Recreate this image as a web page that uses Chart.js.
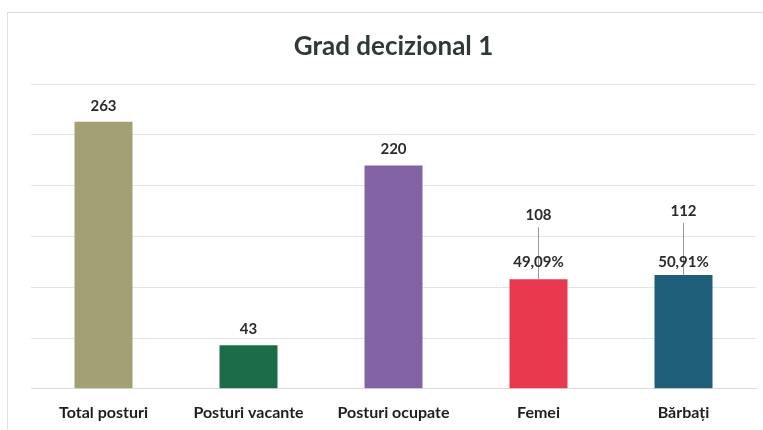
<!DOCTYPE html>
<html>
<head>
<meta charset="utf-8">
<script src="https://cdn.jsdelivr.net/npm/chart.js@4.4.1/dist/chart.umd.min.js"></script>
<style>
  html, body { margin: 0; padding: 0; background: #fff; }
  #wrap { position: relative; width: 763px; height: 430px; overflow: hidden; }
  #frame { position: absolute; left: 7px; top: 12px; right: 0; bottom: 0;
           border-top: 1px solid #d8d8d8; border-left: 1px solid #e2e2e2; }
  canvas { position: absolute; left: 0; top: 0; }
</style>
</head>
<body>
<div id="wrap">
  <div id="frame"></div>
  <canvas id="chart" width="763" height="430"></canvas>
</div>
<script>
const categories = ["Total posturi", "Posturi vacante", "Posturi ocupate", "Femei", "Bărbați"];
const values = [263, 43, 220, 108, 112];
const shares = ["", "", "", "49,09%", "50,91%"];
const barColors = ["#a3a073", "#1b6c47", "#8463a5", "#e8394f", "#1e5e78"];
const yTicks = [0, 50, 100, 150, 200, 250, 300];

const FONT = "Lato, 'Open Sans', sans-serif";

// value labels above each bar, with a leader line where a share is shown
const barLabels = {
  id: "barLabels",
  afterDatasetsDraw(chart) {
    const ctx = chart.ctx;
    const meta = chart.getDatasetMeta(0);
    ctx.save();
    ctx.textAlign = "center";
    ctx.textBaseline = "middle";
    ctx.font = "bold 15px " + FONT;
    ctx.fillStyle = "#2b2b2b";
    meta.data.forEach((bar, i) => {
      const x = bar.x;
      const top = bar.y;
      if (shares[i]) {
        const pctY = 262;
        const numY = top - 64;
        ctx.strokeStyle = "#9a9a9a";
        ctx.lineWidth = 1;
        ctx.beginPath();
        ctx.moveTo(x, numY + 12);
        ctx.lineTo(x, top);
        ctx.stroke();
        ctx.fillText(String(values[i]), x, numY);
        ctx.fillText(shares[i], x, pctY);
      } else {
        ctx.fillText(String(values[i]), x, top - 16);
      }
    });
    ctx.restore();
  }
};

new Chart(document.getElementById("chart"), {
  type: "bar",
  data: {
    labels: categories,
    datasets: [{
      data: values,
      backgroundColor: barColors,
      categoryPercentage: 1,
      barPercentage: 0.4
    }]
  },
  options: {
    responsive: false,
    animation: false,
    layout: { padding: { left: 31, right: 7, bottom: -6 } },
    plugins: {
      legend: { display: false },
      tooltip: { enabled: false },
      title: {
        display: true,
        text: "Grad decizional 1",
        color: "#2f3a35",
        font: { family: FONT, size: 26, weight: "bold" },
        padding: { top: 31, bottom: 22 }
      }
    },
    scales: {
      x: {
        grid: { display: false, drawTicks: false },
        border: { display: true, color: "#dcdcdc" },
        ticks: {
          padding: 14,
          color: "#1e1e1e",
          font: { family: FONT, size: 16, weight: "bold" }
        }
      },
      y: {
        min: yTicks[0],
        max: yTicks[yTicks.length - 1],
        afterBuildTicks(scale) { scale.ticks = yTicks.map(v => ({ value: v })); },
        ticks: { display: false },
        grid: { color: "#e4e4e4", drawTicks: false },
        border: { display: false }
      }
    }
  },
  plugins: [barLabels]
});
</script>
</body>
</html>
